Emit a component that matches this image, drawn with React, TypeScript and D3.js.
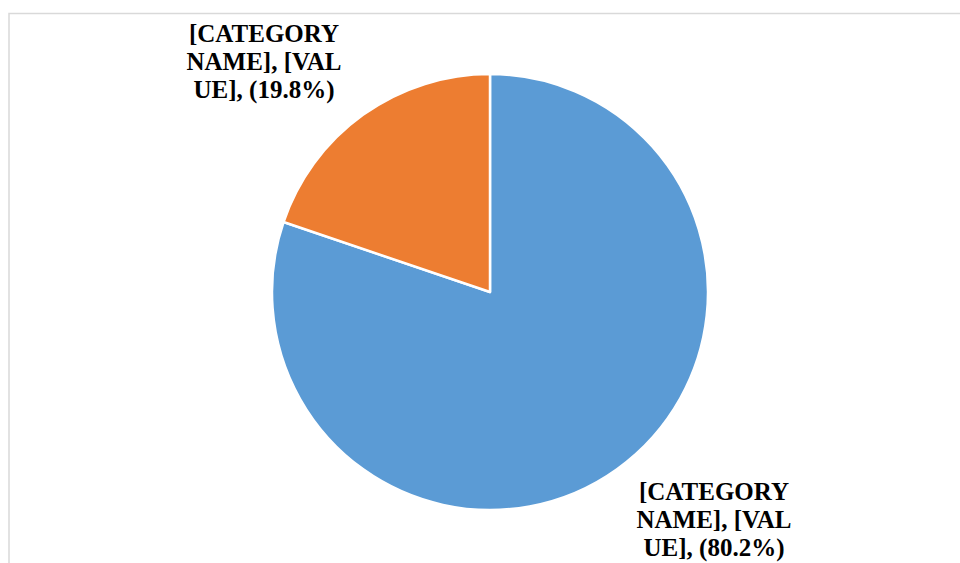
import React from 'react';
import * as d3 from 'd3';

const categories = ['[CATEGORY NAME]', '[CATEGORY NAME]'];
const values = [80.2, 19.8];
const labelLines = [
  ['[CATEGORY', 'NAME], [VAL', 'UE], (80.2%)'],
  ['[CATEGORY', 'NAME], [VAL', 'UE], (19.8%)'],
];
const colors = ['#5b9bd5', '#ed7d31'];

const W = 960;
const H = 563;
const cx = 490;
const cy = 292;
const radius = 218;
// label block centres, relative to the pie centre (Excel "best fit" placement)
const labelOffsets: [number, number][] = [
  [224, 227],
  [-226, -231],
];

const App: React.FC = () => {
  const pie = d3
    .pie<number>()
    .sort(null)
    .value((d) => d);
  const arcs = pie(values);
  const arc = d3.arc<d3.PieArcDatum<number>>().innerRadius(0).outerRadius(radius);
  const lineH = 28;

  return (
    <svg
      width={W}
      height={H}
      style={{ position: 'fixed', left: 0, top: 0, background: '#fff' }}
    >
      <rect x={9} y={13.5} width={W + 20} height={H + 20} fill="#fff" stroke="#d9d9d9" strokeWidth={1.5} />
      <g transform={`translate(${cx},${cy})`}>
        {arcs.map((a, i) => (
          <path
            key={categories[i] + i}
            d={arc(a) || ''}
            fill={colors[i]}
            stroke="#fff"
            strokeWidth={2.5}
            strokeLinejoin="round"
          />
        ))}
        {arcs.map((a, i) => {
          const [lx, ly] = labelOffsets[i];
          const lines = labelLines[i];
          return (
            <text
              key={'l' + i}
              x={lx}
              y={ly - ((lines.length - 1) / 2) * lineH}
              textAnchor="middle"
              dominantBaseline="central"
              fontFamily="'Liberation Serif', 'Times New Roman', serif"
              fontWeight="bold"
              fontSize={25}
              fill="#000"
            >
              {lines.map((t, j) => (
                <tspan key={j} x={lx} dy={j === 0 ? 0 : lineH}>
                  {t}
                </tspan>
              ))}
            </text>
          );
        })}
      </g>
    </svg>
  );
};

export default App;
